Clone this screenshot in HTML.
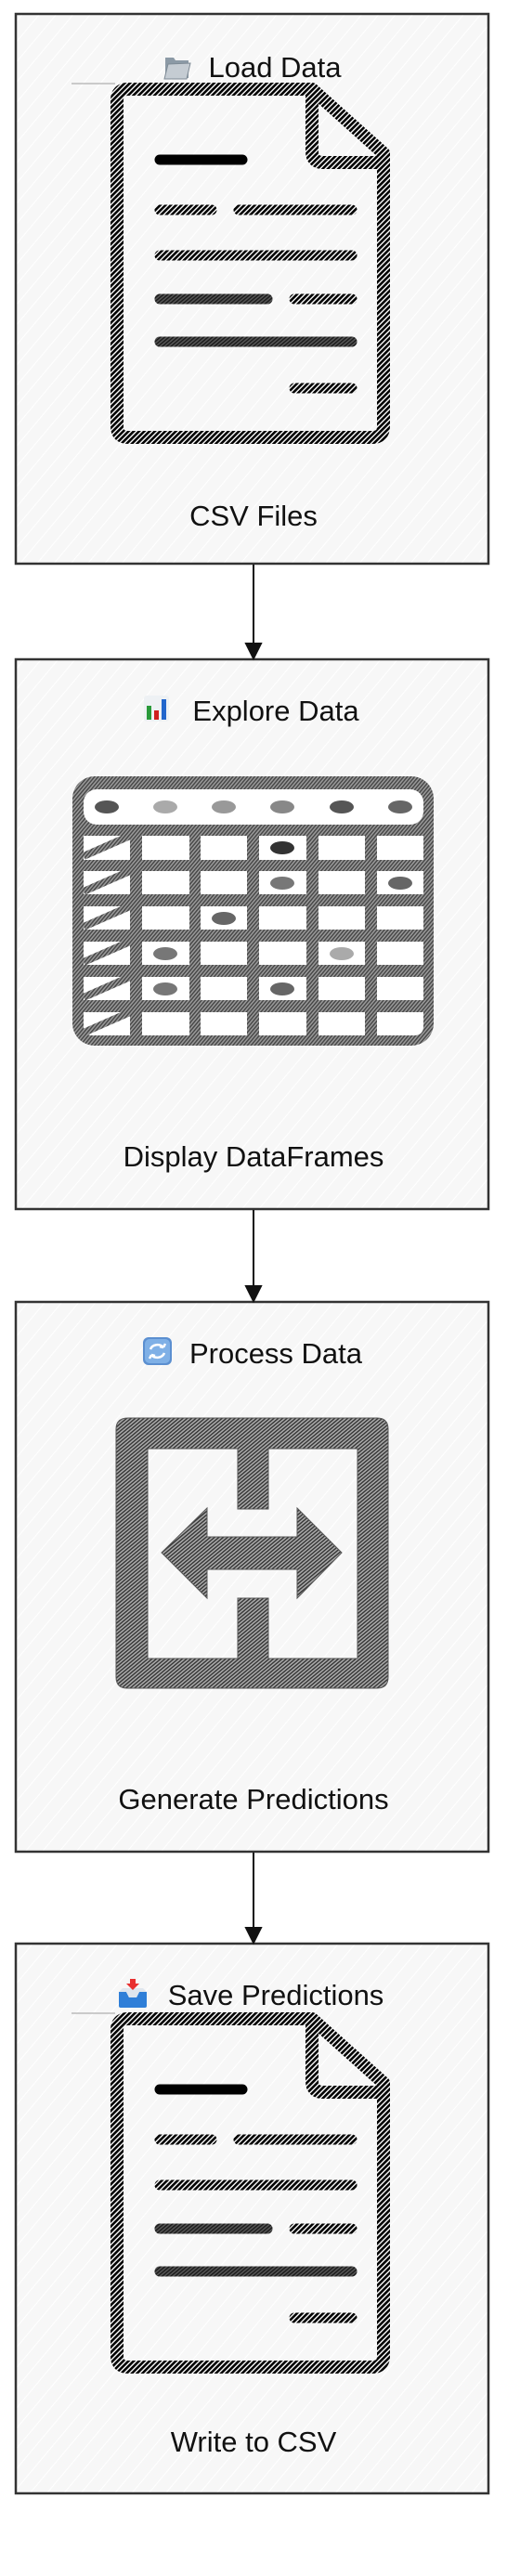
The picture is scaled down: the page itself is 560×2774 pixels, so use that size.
<!DOCTYPE html>
<html><head><meta charset="utf-8"><style>
html,body{margin:0;padding:0;background:#fff;}
svg{display:block}
text{font-family:"Liberation Sans","DejaVu Sans",sans-serif;fill:#111}
</style></head><body>
<svg width="560" height="2774" viewBox="0 0 560 2774" xmlns="http://www.w3.org/2000/svg">
<defs>
<pattern id="bg" width="14" height="14" patternUnits="userSpaceOnUse" patternTransform="rotate(40)">
<rect width="14" height="14" fill="#f7f7f7"/><line x1="0" y1="0" x2="0" y2="14" stroke="#fff" stroke-width="2"/></pattern>
<pattern id="hb" width="4" height="4" patternUnits="userSpaceOnUse" patternTransform="rotate(45)">
<rect width="4" height="4" fill="#fff"/><rect width="2.6" height="4" fill="#000"/></pattern>
<pattern id="hg" width="3" height="3" patternUnits="userSpaceOnUse" patternTransform="rotate(40)">
<rect width="3" height="3" fill="#999"/><rect width="1.4" height="3" fill="#444"/></pattern>
<pattern id="hd" width="3" height="3" patternUnits="userSpaceOnUse" patternTransform="rotate(50)">
<rect width="3" height="3" fill="#aaa"/><rect width="1.4" height="3" fill="#333"/></pattern>
<g id="doc">
<line x1="61" y1="82" x2="108" y2="82" stroke="#bbb" stroke-width="1.5"/>
<path d="M122,88 L320,88 L397,157 L397,451 Q397,463 385,463 L122,463 Q110,463 110,451 L110,100 Q110,88 122,88 Z" fill="none" stroke="url(#hb)" stroke-width="14" stroke-linejoin="round"/>
<path d="M320,88 L320,155 Q320,167 332,167 L397,167" fill="none" stroke="url(#hb)" stroke-width="14" stroke-linejoin="round"/>
<g stroke-linecap="round" stroke-width="11" fill="none">
<line x1="156" y1="164" x2="245" y2="164" stroke="#000"/>
<line x1="156" y1="218" x2="212" y2="218" stroke="url(#hb)"/>
<line x1="241" y1="218" x2="363" y2="218" stroke="url(#hb)"/>
<line x1="156" y1="267" x2="363" y2="267" stroke="url(#hb)"/>
<line x1="156" y1="314" x2="272" y2="314" stroke="url(#hd)"/>
<line x1="156" y1="314" x2="272" y2="314" stroke="#000" stroke-opacity="0.5"/>
<line x1="301" y1="314" x2="363" y2="314" stroke="url(#hb)"/>
<line x1="156" y1="360" x2="363" y2="360" stroke="url(#hd)"/>
<line x1="156" y1="360" x2="363" y2="360" stroke="#000" stroke-opacity="0.5"/>
<line x1="301" y1="410" x2="363" y2="410" stroke="url(#hb)"/>
</g>
</g>
</defs>

<!-- Boxes -->
<g stroke="#333" stroke-width="2.5" fill="url(#bg)">
<rect x="17" y="15" width="509" height="592"/>
<rect x="17" y="710" width="509" height="592"/>
<rect x="17" y="1402" width="509" height="592"/>
<rect x="17" y="2093" width="509" height="592"/>
</g>

<!-- Arrows -->
<g stroke="#111" stroke-width="2" fill="#111">
<line x1="273" y1="608" x2="273" y2="694"/><path d="M265,693 L281,693 L273,709 Z"/>
<line x1="273" y1="1303" x2="273" y2="1386"/><path d="M265,1385 L281,1385 L273,1401 Z"/>
<line x1="273" y1="1995" x2="273" y2="2077"/><path d="M265,2076 L281,2076 L273,2092 Z"/>
</g>

<!-- Box 1 -->
<g transform="translate(16,8)"><use href="#doc"/></g>
<g transform="translate(176,58)">
<path d="M2,4 L11,4 L13,7 L27,7 L27,26 L2,26 Z" fill="#8c9aa6"/>
<path d="M5,11 L29,10 L25,27 L1,27 Z" fill="#c5ccd3" stroke="#7e8a95" stroke-width="1"/>
</g>
<text x="296" y="83" font-size="31" text-anchor="middle">Load Data</text>
<text x="273" y="566" font-size="31" text-anchor="middle">CSV Files</text>

<!-- Box 2 -->
<g transform="translate(155,749)">
<rect x="0" y="0" width="27" height="28" rx="3" fill="#eef1f4"/>
<rect x="3" y="11" width="5" height="15" fill="#2a9a3a"/>
<rect x="11" y="16" width="5" height="10" fill="#d02020"/>
<rect x="19" y="4" width="5" height="22" fill="#2266cc"/>
</g>
<text x="297" y="776" font-size="31" text-anchor="middle">Explore Data</text>
<g>
<rect x="78" y="836" width="389" height="290" rx="24" fill="url(#hg)"/>
<rect x="90" y="850" width="366" height="38" rx="14" fill="#fff"/>
<g fill="#fff">
<rect x="90" y="900" width="50" height="26"/><rect x="153" y="900" width="51" height="26"/><rect x="216" y="900" width="50" height="26"/><rect x="279" y="900" width="51" height="26"/><rect x="343" y="900" width="50" height="26"/><rect x="406" y="900" width="50" height="26"/>
<rect x="90" y="938" width="50" height="25"/><rect x="153" y="938" width="51" height="25"/><rect x="216" y="938" width="50" height="25"/><rect x="279" y="938" width="51" height="25"/><rect x="343" y="938" width="50" height="25"/><rect x="406" y="938" width="50" height="25"/>
<rect x="90" y="976" width="50" height="25"/><rect x="153" y="976" width="51" height="25"/><rect x="216" y="976" width="50" height="25"/><rect x="279" y="976" width="51" height="25"/><rect x="343" y="976" width="50" height="25"/><rect x="406" y="976" width="50" height="25"/>
<rect x="90" y="1014" width="50" height="25"/><rect x="153" y="1014" width="51" height="25"/><rect x="216" y="1014" width="50" height="25"/><rect x="279" y="1014" width="51" height="25"/><rect x="343" y="1014" width="50" height="25"/><rect x="406" y="1014" width="50" height="25"/>
<rect x="90" y="1052" width="50" height="25"/><rect x="153" y="1052" width="51" height="25"/><rect x="216" y="1052" width="50" height="25"/><rect x="279" y="1052" width="51" height="25"/><rect x="343" y="1052" width="50" height="25"/><rect x="406" y="1052" width="50" height="25"/>
<path d="M90,1090 L140,1090 L140,1115 L100,1115 Q90,1115 90,1105 Z"/><rect x="153" y="1090" width="51" height="25"/><rect x="216" y="1090" width="50" height="25"/><rect x="279" y="1090" width="51" height="25"/><rect x="343" y="1090" width="50" height="25"/><path d="M406,1090 L456,1090 L456,1105 Q456,1115 446,1115 L406,1115 Z"/>
</g>
<g stroke="url(#hg)" stroke-width="8">
<line x1="90" y1="922" x2="140" y2="900"/><line x1="90" y1="960" x2="140" y2="938"/><line x1="90" y1="998" x2="140" y2="976"/><line x1="90" y1="1036" x2="140" y2="1014"/><line x1="90" y1="1074" x2="140" y2="1052"/><line x1="90" y1="1112" x2="140" y2="1090"/>
</g>
<g>
<ellipse cx="115" cy="869" rx="13" ry="7" fill="#555"/><ellipse cx="178" cy="869" rx="13" ry="7" fill="#aaa"/><ellipse cx="241" cy="869" rx="13" ry="7" fill="#999"/><ellipse cx="304" cy="869" rx="13" ry="7" fill="#888"/><ellipse cx="368" cy="869" rx="13" ry="7" fill="#555"/><ellipse cx="431" cy="869" rx="13" ry="7" fill="#666"/>
<ellipse cx="304" cy="913" rx="13" ry="7" fill="#333"/>
<ellipse cx="304" cy="951" rx="13" ry="7" fill="#777"/><ellipse cx="431" cy="951" rx="13" ry="7" fill="#666"/>
<ellipse cx="241" cy="989" rx="13" ry="7" fill="#666"/>
<ellipse cx="178" cy="1027" rx="13" ry="7" fill="#777"/><ellipse cx="368" cy="1027" rx="13" ry="7" fill="#aaa"/>
<ellipse cx="178" cy="1065" rx="13" ry="7" fill="#777"/><ellipse cx="304" cy="1065" rx="13" ry="7" fill="#666"/>
</g>
</g>
<text x="273" y="1256" font-size="31" text-anchor="middle">Display DataFrames</text>

<!-- Box 3 -->
<g transform="translate(154,1440)">
<rect x="0" y="0" width="31" height="30" rx="6" fill="#5b8fd0"/>
<rect x="2" y="2" width="27" height="26" rx="5" fill="#7fb0e6"/>
<path d="M8,13 A8,7 0 0 1 22,11 M22,11 L24,7 M22,11 L18,10" stroke="#fff" stroke-width="2.5" fill="none"/>
<path d="M23,17 A8,7 0 0 1 9,19 M9,19 L7,23 M9,19 L13,20" stroke="#fff" stroke-width="2.5" fill="none"/>
</g>
<text x="297" y="1468" font-size="31" text-anchor="middle">Process Data</text>
<path fill-rule="evenodd" fill="url(#hd)" stroke="#555" stroke-width="1" d="M138,1527 L406,1527 Q418,1527 418,1539 L418,1806 Q418,1818 406,1818 L137,1818 Q125,1818 125,1806 L125,1539 Q125,1527 138,1527 Z M159,1560 L159,1786 L256,1786 L256,1721 L289,1721 L289,1786 L385,1786 L385,1560 L289,1560 L289,1625 L256,1625 L256,1560 Z"/>
<path fill="url(#hd)" stroke="#555" stroke-width="1" d="M174,1672 L223,1624 L223,1655 L320,1655 L320,1624 L368,1672 L320,1721 L320,1690 L223,1690 L223,1721 Z"/>
<text x="273" y="1948" font-size="31" text-anchor="middle">Generate Predictions</text>

<!-- Box 4 -->
<g transform="translate(16,2086)"><use href="#doc"/></g>
<g transform="translate(128,2131)">
<path d="M0,14 L8,14 L11,20 L19,20 L22,14 L30,14 L30,29 Q30,31 28,31 L2,31 Q0,31 0,29 Z" fill="#2f7fd8"/>
<path d="M4,10 L26,10 L30,14 L22,14 L19,20 L11,20 L8,14 L0,14 Z" fill="#dfe6ee"/>
<path d="M12,0 L18,0 L18,5 L22,5 L15,12 L8,5 L12,5 Z" fill="#e83030"/>
</g>
<text x="297" y="2159" font-size="31" text-anchor="middle">Save Predictions</text>
<text x="273" y="2640" font-size="31" text-anchor="middle">Write to CSV</text>
</svg>
</body></html>
